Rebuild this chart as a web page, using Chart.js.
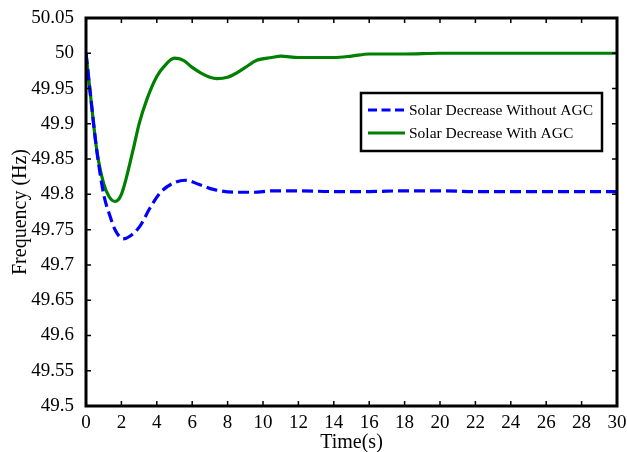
<!DOCTYPE html>
<html>
<head>
<meta charset="utf-8">
<script src="https://cdn.jsdelivr.net/npm/chart.js@4/dist/chart.umd.min.js"></script>
<style>
  html, body { margin: 0; padding: 0; background: #fff; }
  #wrap { width: 627px; height: 452px; }
</style>
</head>
<body>
<div id="wrap"><canvas id="freqChart" width="627" height="452"></canvas></div>
<script>
"use strict"

// time (s) / frequency (Hz)
const timeNoAgc = [0, 0.3, 0.6, 1.0, 1.36, 1.64, 2.1, 2.5, 3.05, 3.6, 4.18, 4.93, 5.6, 6.4, 7.2, 8.5, 9.5, 10.5, 12, 14, 16, 18, 20, 22, 30];
const freqNoAgc = [50, 49.93, 49.864, 49.80, 49.769, 49.75, 49.737, 49.741, 49.755, 49.78, 49.802, 49.816, 49.82, 49.814, 49.807, 49.803, 49.803, 49.805, 49.805, 49.804, 49.804, 49.805, 49.805, 49.804, 49.804];

const timeAgc = [0, 0.3, 0.6, 1.0, 1.3, 1.64, 2.0, 2.67, 3.0, 3.43, 4.0, 4.4, 5.0, 5.5, 6.0, 6.5, 7.0, 7.4, 8.0, 8.5, 9.0, 9.65, 10.5, 11, 12, 14, 15, 16, 18, 20, 25, 30];
const freqAgc = [50, 49.93, 49.864, 49.815, 49.797, 49.79, 49.80, 49.864, 49.90, 49.934, 49.967, 49.981, 49.993, 49.99, 49.98, 49.972, 49.966, 49.964, 49.966, 49.972, 49.98, 49.99, 49.994, 49.996, 49.994, 49.994, 49.996, 49.999, 49.999, 50.0, 50.0, 50.0];

const xTicks = [0, 2, 4, 6, 8, 10, 12, 14, 16, 18, 20, 22, 24, 26, 28, 30];
const yTicks = [49.5, 49.55, 49.6, 49.65, 49.7, 49.75, 49.8, 49.85, 49.9, 49.95, 50, 50.05];

const seriesNames = ['Solar Decrease Without AGC', 'Solar Decrease With AGC'];

const FONT = "'Liberation Serif', 'Times New Roman', serif";

const toPoints = (xs, ys) => xs.map((t, i) => ({ x: t, y: ys[i] }));

// frame + inward ticks on all four sides
const framePlugin = {
  id: 'frame',
  afterDatasetsDraw(chart) {
    const { ctx, chartArea: a, scales } = chart;
    ctx.save();
    ctx.strokeStyle = '#000';
    ctx.lineWidth = 1.5;
    ctx.beginPath();
    xTicks.forEach(t => {
      const px = scales.x.getPixelForValue(t);
      ctx.moveTo(px, a.bottom); ctx.lineTo(px, a.bottom - 5);
      ctx.moveTo(px, a.top); ctx.lineTo(px, a.top + 5);
    });
    yTicks.forEach(v => {
      const py = scales.y.getPixelForValue(v);
      ctx.moveTo(a.left, py); ctx.lineTo(a.left + 5, py);
      ctx.moveTo(a.right, py); ctx.lineTo(a.right - 5, py);
    });
    ctx.stroke();
    ctx.lineWidth = 3;
    ctx.strokeRect(a.left, a.top, a.right - a.left, a.bottom - a.top);
    ctx.restore();
  }
};

// legend box inside the plot, top right
const boxLegend = {
  id: 'boxLegend',
  afterDraw(chart) {
    const { ctx } = chart;
    const x0 = 361, y0 = 93, w = 241, h = 58;
    ctx.save();
    ctx.fillStyle = '#fff';
    ctx.fillRect(x0, y0, w, h);
    ctx.strokeStyle = '#000';
    ctx.lineWidth = 2.5;
    ctx.strokeRect(x0, y0, w, h);
    ctx.font = '15.5px ' + FONT;
    ctx.textBaseline = 'middle';
    chart.data.datasets.forEach((ds, i) => {
      const ly = y0 + 17 + i * 23;
      ctx.beginPath();
      ctx.strokeStyle = ds.borderColor;
      ctx.lineWidth = 3;
      ctx.setLineDash(i === 0 ? [9, 4.5] : []);
      ctx.moveTo(x0 + 7, ly);
      ctx.lineTo(x0 + 44, ly);
      ctx.stroke();
      ctx.setLineDash([]);
      ctx.fillStyle = '#000';
      ctx.fillText(ds.label, x0 + 48, ly + 1);
    });
    ctx.restore();
  }
};

new Chart(document.getElementById('freqChart'), {
  type: 'line',
  data: {
    datasets: [
      {
        label: seriesNames[0],
        data: toPoints(timeNoAgc, freqNoAgc),
        borderColor: '#0000ff',
        borderWidth: 3.2,
        borderDash: [11, 5],
        pointRadius: 0,
        cubicInterpolationMode: 'monotone',
        fill: false
      },
      {
        label: seriesNames[1],
        data: toPoints(timeAgc, freqAgc),
        borderColor: '#008000',
        borderWidth: 3.2,
        pointRadius: 0,
        cubicInterpolationMode: 'monotone',
        fill: false
      }
    ]
  },
  options: {
    responsive: false,
    animation: false,
    events: [],
    layout: { padding: { top: 18, right: 10, left: 0, bottom: 0 } },
    plugins: { legend: { display: false }, tooltip: { enabled: false } },
    scales: {
      x: {
        type: 'linear',
        min: 0,
        max: 30,
        afterBuildTicks: s => { s.ticks = xTicks.map(v => ({ value: v })); },
        afterFit: s => { s.height = 46; },
        grid: { display: false },
        border: { display: false },
        ticks: { color: '#000', font: { family: FONT, size: 19 }, padding: -2, maxRotation: 0 },
        title: { display: true, text: 'Time(s)', color: '#000', font: { family: FONT, size: 20 }, padding: { top: 0, bottom: -3 } }
      },
      y: {
        type: 'linear',
        min: 49.5,
        max: 50.05,
        afterBuildTicks: s => { s.ticks = yTicks.map(v => ({ value: v })); },
        afterFit: s => { s.width = 86; },
        grid: { display: false },
        border: { display: false },
        ticks: {
          color: '#000', font: { family: FONT, size: 19 }, padding: 4,
          callback: v => String(Math.round(v * 100) / 100)
        },
        title: { display: true, text: 'Frequency (Hz)', color: '#000', font: { family: FONT, size: 20 }, padding: { top: 9, bottom: 0 } }
      }
    }
  },
  plugins: [framePlugin, boxLegend]
});
</script>
</body>
</html>
